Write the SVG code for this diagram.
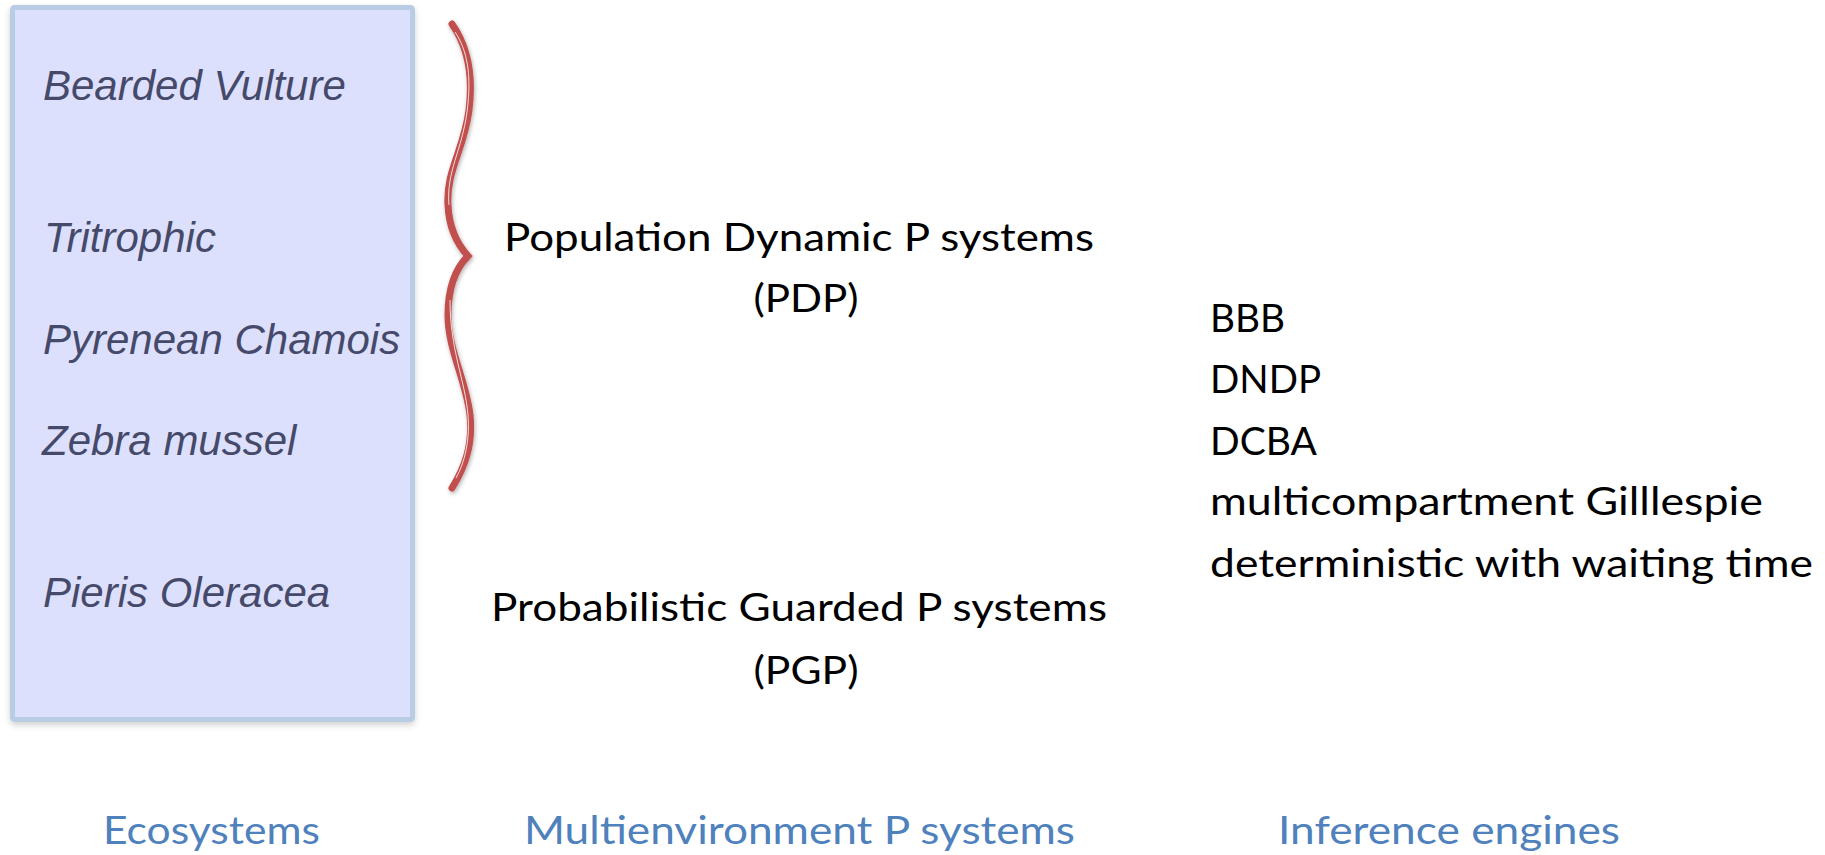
<svg xmlns="http://www.w3.org/2000/svg" width="1825" height="855" viewBox="0 0 1825 855">
  <style>
    .eco { font-family: "Liberation Sans", Arial, sans-serif; font-style: italic; font-size: 42px; fill: #464a6a; }
    .model { font-family: Lato, "Open Sans", sans-serif; font-size: 39px; fill: #000; text-anchor: middle; }
    .engine { font-family: Lato, "Open Sans", sans-serif; font-size: 38px; fill: #000; }
    .caption { font-family: Lato, "Open Sans", sans-serif; font-size: 39px; fill: #4f81bd; }
  </style>
  <defs>
    <filter id="boxShadow" x="-5%" y="-5%" width="110%" height="110%">
      <feDropShadow dx="0" dy="3" stdDeviation="3" flood-color="#000" flood-opacity="0.18"/>
    </filter>
    <filter id="braceShadow" x="-50%" y="-5%" width="200%" height="110%">
      <feDropShadow dx="1" dy="2" stdDeviation="2" flood-color="#000" flood-opacity="0.3"/>
    </filter>
  </defs>

  <rect width="1825" height="855" fill="#ffffff"/>

  <!-- Ecosystems box -->
  <g id="ecosystems">
    <rect x="12.5" y="7.5" width="400" height="712" rx="2" fill="#dde0fd" stroke="#b8cce4" stroke-width="5" filter="url(#boxShadow)"/>
    <text class="eco" x="43" y="100">Bearded Vulture</text>
    <text class="eco" x="44" y="252">Tritrophic</text>
    <text class="eco" x="43" y="354">Pyrenean Chamois</text>
    <text class="eco" x="42" y="455">Zebra mussel</text>
    <text class="eco" x="43" y="607">Pieris Oleracea</text>
  </g>

  <!-- Brace grouping the first four ecosystems -->
  <g id="brace" filter="url(#braceShadow)">
    <path d="M452,24 C466,44 474,70 469,110 C464,150 446,170 448,205 C449,228 458,245 468,256 C456,268 448,288 448,315 C448,350 466,380 470,415 C473,445 465,467 452,488"
          fill="none" stroke="#c0504d" stroke-width="7" stroke-linecap="round" stroke-linejoin="miter"/>
    <path d="M455,32 C467,50 472,74 467,112 C462,150 446,172 449,205 M450,300 C450,350 465,380 468,415 C470,440 465,462 456,478"
          fill="none" stroke="#ffffff" stroke-width="1" stroke-opacity="0.8"/>
  </g>

  <!-- Multienvironment P system models -->
  <g id="pdp">
    <text class="model" x="799" y="251" textLength="590" lengthAdjust="spacingAndGlyphs">Population Dynamic P systems</text>
    <text class="model" x="806" y="312" textLength="105" lengthAdjust="spacingAndGlyphs">(PDP)</text>
  </g>
  <g id="pgp">
    <text class="model" x="799" y="621" textLength="616" lengthAdjust="spacingAndGlyphs">Probabilistic Guarded P systems</text>
    <text class="model" x="806" y="684" textLength="105" lengthAdjust="spacingAndGlyphs">(PGP)</text>
  </g>

  <!-- Inference engines -->
  <g id="engines">
    <text class="engine" x="1210" y="332" textLength="75" lengthAdjust="spacingAndGlyphs">BBB</text>
    <text class="engine" x="1210" y="393" textLength="111" lengthAdjust="spacingAndGlyphs">DNDP</text>
    <text class="engine" x="1210" y="455" textLength="107" lengthAdjust="spacingAndGlyphs">DCBA</text>
    <text class="engine" x="1210" y="515" textLength="553" lengthAdjust="spacingAndGlyphs">multicompartment Gilllespie</text>
    <text class="engine" x="1210" y="577" textLength="603" lengthAdjust="spacingAndGlyphs">deterministic with waiting time</text>
  </g>

  <!-- Column captions -->
  <g id="captions">
    <text class="caption" x="103" y="844" textLength="217" lengthAdjust="spacingAndGlyphs">Ecosystems</text>
    <text class="caption" x="524" y="844" textLength="551" lengthAdjust="spacingAndGlyphs">Multienvironment P systems</text>
    <text class="caption" x="1278" y="844" textLength="342" lengthAdjust="spacingAndGlyphs">Inference engines</text>
  </g>

  <g id="connectors"></g>
</svg>
